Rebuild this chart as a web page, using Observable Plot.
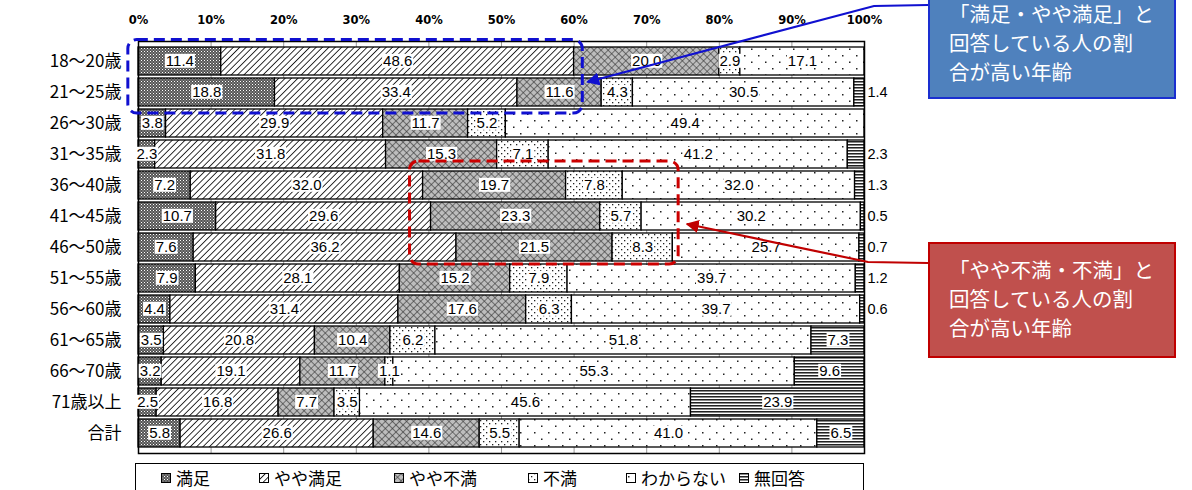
<!DOCTYPE html>
<html><head><meta charset="utf-8">
<script src="https://cdn.jsdelivr.net/npm/d3@7"></script>
<script src="https://cdn.jsdelivr.net/npm/@observablehq/plot@0.6"></script>
<style>
body{margin:0;background:#fff;}
#wrap{position:relative;width:1192px;height:490px;overflow:hidden;font-family:"Noto Sans CJK JP",sans-serif;}
#chart{position:absolute;left:0;top:0;}
#legend{position:absolute;left:135px;top:463px;width:727px;height:40px;border:1px solid #000;background:#fff;}
.li{position:absolute;top:3px;font-size:17px;line-height:22px;white-space:nowrap;color:#000;}
.li svg{vertical-align:middle;margin-right:5px;position:relative;top:-2px;}
</style></head><body>
<svg width="0" height="0" style="position:absolute">
<defs>
  <pattern id="p1" width="3" height="3" patternUnits="userSpaceOnUse">
    <rect width="3" height="3" fill="#555"/>
    <rect x="0" y="0" width="1" height="1" fill="#fff"/>
    <rect x="1.5" y="1.5" width="1" height="1" fill="#ccc"/>
  </pattern>
  <pattern id="p2" width="4.5" height="4.5" patternUnits="userSpaceOnUse" patternTransform="rotate(45)">
    <rect width="4.5" height="4.5" fill="#fff"/>
    <line x1="0" y1="0" x2="0" y2="4.5" stroke="#000" stroke-width="1.6"/>
  </pattern>
  <pattern id="p3" width="5" height="5" patternUnits="userSpaceOnUse" patternTransform="rotate(45)">
    <rect width="5" height="5" fill="#bdbdbd"/>
    <line x1="0" y1="0" x2="0" y2="5" stroke="#333" stroke-width="1.2"/>
    <line x1="0" y1="0" x2="5" y2="0" stroke="#333" stroke-width="1.2"/>
  </pattern>
  <pattern id="p4" width="6" height="6" patternUnits="userSpaceOnUse">
    <rect width="6" height="6" fill="#fff"/>
    <rect x="0" y="0" width="1.3" height="1.3" fill="#222"/>
    <rect x="3" y="3" width="1.3" height="1.3" fill="#222"/>
  </pattern>
  <pattern id="p5" width="14" height="13" patternUnits="userSpaceOnUse">
    <rect width="14" height="13" fill="#fff"/>
    <rect x="2" y="3" width="1.5" height="1.5" fill="#222"/>
    <rect x="9" y="9.5" width="1.5" height="1.5" fill="#222"/>
  </pattern>
  <pattern id="p6" width="3" height="3" patternUnits="userSpaceOnUse">
    <rect width="3" height="3" fill="#fff"/>
    <rect y="0" width="3" height="1" fill="#222"/>
    <rect y="1" width="3" height="1" fill="#888"/>
  </pattern>
</defs>
</svg>
<div id="wrap">
  <div id="chart"></div>
  <div id="legend"></div>
</div>
<script>
const ages = ["18〜20歳","21〜25歳","26〜30歳","31〜35歳","36〜40歳","41〜45歳","46〜50歳","51〜55歳","56〜60歳","61〜65歳","66〜70歳","71歳以上","合計"];
const seriesNames = ["満足","やや満足","やや不満","不満","わからない","無回答"];
const satisfied            = [11.4, 18.8,  3.8,  2.3,  7.2, 10.7,  7.6,  7.9,  4.4,  3.5,  3.2,  2.5,  5.8];
const somewhatSatisfied    = [48.6, 33.4, 29.9, 31.8, 32.0, 29.6, 36.2, 28.1, 31.4, 20.8, 19.1, 16.8, 26.6];
const somewhatDissatisfied = [20.0, 11.6, 11.7, 15.3, 19.7, 23.3, 21.5, 15.2, 17.6, 10.4, 11.7,  7.7, 14.6];
const dissatisfied         = [ 2.9,  4.3,  5.2,  7.1,  7.8,  5.7,  8.3,  7.9,  6.3,  6.2,  1.1,  3.5,  5.5];
const unknown              = [17.1, 30.5, 49.4, 41.2, 32.0, 30.2, 25.7, 39.7, 39.7, 51.8, 55.3, 45.6, 41.0];
const noAnswer             = [ 0.0,  1.4,  0.0,  2.3,  1.3,  0.5,  0.7,  1.2,  0.6,  7.3,  9.6, 23.9,  6.5];
const xTicks = [0,10,20,30,40,50,60,70,80,90,100];

const seriesValues = [satisfied, somewhatSatisfied, somewhatDissatisfied, dissatisfied, unknown, noAnswer];
const fills = ["url(#p1)","url(#p2)","url(#p3)","url(#p4)","url(#p5)","url(#p6)"];

const rows = [];
ages.forEach((age, i) => {
  let acc = 0;
  seriesValues.forEach((vals, j) => {
    const v = vals[i];
    rows.push({age, series: seriesNames[j], j, value: v, x1: acc, x2: acc + v});
    acc += v;
  });
});
const nonzero = rows.filter(d => d.value > 0);
const inside = nonzero.filter(d => !(d.j === 5 && d.value < 3));
const outside = nonzero.filter(d => d.j === 5 && d.value < 3);

const chart = Plot.plot({
  width: 1192,
  height: 460,
  marginLeft: 138,
  marginRight: 328,
  marginTop: 41,
  marginBottom: 7,
  style: {fontFamily: "'Noto Sans CJK JP', sans-serif", background: "#fff"},
  x: {domain: [0, 100], ticks: xTicks},
  y: {domain: ages, paddingInner: 0.11, paddingOuter: 0.055, label: null},
  marks: [
    Plot.gridX(xTicks, {stroke: "#9a9a9a", strokeOpacity: 1}),
    ...seriesNames.map((s, j) => Plot.barX(nonzero.filter(d => d.j === j), {
      x1: "x1", x2: "x2", y: "age", fill: fills[j], stroke: "#000", strokeWidth: 1.3, inset: 0
    })),
    Plot.frame({stroke: "#000", strokeWidth: 1.5, fill: "none"}),
    Plot.axisX(xTicks, {anchor: "top", tickSize: 0, tickPadding: 18, tickFormat: d => d + "%", fontSize: 11.5, fontFamily: "DejaVu Sans", fontWeight: "bold", label: null}),
    Plot.axisY({tickSize: 0, tickPadding: 17, fontSize: 17, label: null}),
    Plot.text(inside, {x: d => (d.x1 + d.x2) / 2, y: "age", text: d => d.value.toFixed(1), fontSize: 15, fontFamily: "Liberation Sans", fill: "#000", className: "lbl"}),
    Plot.text(outside, {x: "x2", y: "age", text: d => d.value.toFixed(1), dx: 3, textAnchor: "start", fontSize: 14.5, fontFamily: "Liberation Sans", fill: "#000"})
  ]
});
document.getElementById("chart").appendChild(chart);

// white boxes behind inside labels
d3.select(chart).selectAll("g.lbl text").each(function() {
  const b = this.getBBox();
  const r = document.createElementNS("http://www.w3.org/2000/svg", "rect");
  r.setAttribute("x", b.x - 1); r.setAttribute("y", b.y + 1.5);
  r.setAttribute("width", b.width + 2); r.setAttribute("height", b.height - 3);
  r.setAttribute("fill", "#fff");
  const t = this.getAttribute("transform");
  if (t) r.setAttribute("transform", t);
  this.parentNode.insertBefore(r, this);
});

// annotations
const X = chart.scale("x"), Y = chart.scale("y");
const bw = Y.bandwidth;
const svg = d3.select(chart);
const defs = svg.append("defs");
[["ab","#1010d0"],["ar","#c00000"]].forEach(([id,c]) => {
  defs.append("marker").attr("id", id).attr("viewBox","0 0 10 10").attr("refX",9).attr("refY",5)
    .attr("markerWidth",6).attr("markerHeight",6).attr("orient","auto-start-reverse")
    .append("path").attr("d","M0,0 L10,5 L0,10 z").attr("fill", c);
});
const ann = svg.append("g").attr("text-anchor", "start");
// blue dashed region
ann.append("rect")
  .attr("x", X.apply(-1.4)).attr("y", Y.apply(ages[0]) - 7.5)
  .attr("width", X.apply(61.2) - X.apply(-1.4))
  .attr("height", Y.apply(ages[1]) + bw + 7 - (Y.apply(ages[0]) - 7.5))
  .attr("rx", 9).attr("fill","none").attr("stroke","#1010d0").attr("stroke-width",3).attr("stroke-dasharray","11,6");
// red dashed region
ann.append("rect")
  .attr("x", X.apply(37.4)).attr("y", Y.apply(ages[4]) - 10)
  .attr("width", X.apply(74.4) - X.apply(37.4))
  .attr("height", Y.apply(ages[6]) + bw + 3 - (Y.apply(ages[4]) - 10))
  .attr("rx", 9).attr("fill","none").attr("stroke","#cc0000").attr("stroke-width",3).attr("stroke-dasharray","11,6");
// connectors
ann.append("path").attr("d", `M928,5 L874,6 L${X.apply(61.9)},82`).attr("fill","none")
  .attr("stroke","#1010d0").attr("stroke-width",2.2).attr("marker-end","url(#ab)");
ann.append("path").attr("d", `M928,263 L868,262 L${X.apply(75.6)},224`).attr("fill","none")
  .attr("stroke","#c00000").attr("stroke-width",2.2).attr("marker-end","url(#ar)");
// callout boxes
function callout(y0, h, fill, stroke, lines, firstY) {
  ann.append("rect").attr("x",929).attr("y",y0).attr("width",246).attr("height",h)
    .attr("fill",fill).attr("stroke",stroke).attr("stroke-width",2);
  lines.forEach((s, k) => {
    ann.append("text").attr("x", 949).attr("y", firstY + k * 29).attr("dy","0.35em")
      .attr("text-anchor","start")
      .attr("fill","#fff").attr("font-size", 20.5).attr("font-family","'Noto Sans CJK JP'").text(s);
  });
}
callout(-3, 101, "#4f81bd", "#1a2fd0", ["「満足・やや満足」と","回答している人の割","合が高い年齢"], 15);
callout(243, 114, "#c0504d", "#c00000", ["「やや不満・不満」と","回答している人の割","合が高い年齢"], 271);

// legend
const legendX = [25, 123, 258, 392, 490, 603];
const lg = document.getElementById("legend");
seriesNames.forEach((s, j) => {
  const d = document.createElement("div");
  d.className = "li";
  d.style.left = legendX[j] + "px";
  d.innerHTML = `<svg width="10" height="10"><rect x="0.5" y="0.5" width="9" height="9" fill="${fills[j]}" stroke="#000"/></svg>${s}`;
  lg.appendChild(d);
});
</script>
</body></html>
